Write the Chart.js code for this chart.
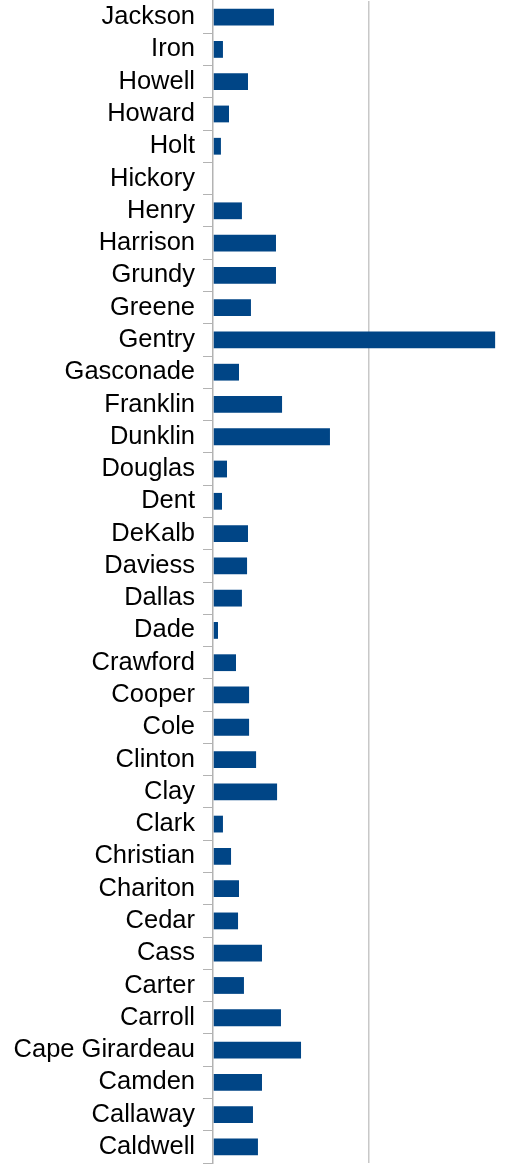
<!DOCTYPE html>
<html>
<head>
<meta charset="utf-8">
<script src="https://cdn.jsdelivr.net/npm/chart.js@4/dist/chart.umd.min.js"></script>
<style>
    html, body { margin: 0; padding: 0; background: #fff; }
    #wrap { position: relative; width: 511px; height: 1167px; }
</style>
</head>
<body>
<div id="wrap"><canvas id="chart"></canvas></div>
<script>
(function () {
    'use strict';

    /* ── Data ── */
    var counties = [
        'Jackson', 'Iron', 'Howell', 'Howard', 'Holt', 'Hickory', 'Henry',
        'Harrison', 'Grundy', 'Greene', 'Gentry', 'Gasconade', 'Franklin',
        'Dunklin', 'Douglas', 'Dent', 'DeKalb', 'Daviess', 'Dallas', 'Dade',
        'Crawford', 'Cooper', 'Cole', 'Clinton', 'Clay', 'Clark', 'Christian',
        'Chariton', 'Cedar', 'Cass', 'Carter', 'Carroll', 'Cape Girardeau',
        'Camden', 'Callaway', 'Caldwell'
    ];
    var values = [
        39.2, 6.4, 22.5, 10.3, 5.1, 0, 18.6,
        40.5, 40.5, 24.4, 181.4, 16.7, 44.4,
        75.2, 9.0, 5.8, 22.5, 21.9, 18.6, 3.2,
        14.8, 23.2, 23.2, 27.7, 41.2, 6.4, 11.6,
        16.7, 16.1, 31.5, 19.9, 43.7, 56.6,
        31.5, 25.7, 28.9
    ];
    var gridTicks = [0, 100];
    var axisMax = 191.6;

    var colours = {
        bar:  '#004586',
        axis: '#b3b3b3',
        grid: '#c8c8c8',
        text: '#000000'
    };

    new Chart(document.getElementById('chart'), {
        type: 'bar',
        data: {
            labels: counties,
            datasets: [{
                data: values,
                backgroundColor: colours.bar,
                borderWidth: 0,
                categoryPercentage: 1,
                barPercentage: 0.52
            }]
        },
        options: {
            indexAxis: 'y',
            responsive: true,
            maintainAspectRatio: false,
            animation: false,
            layout: { padding: { top: 1, bottom: 4, left: 0, right: 0 } },
            plugins: {
                legend: { display: false },
                tooltip: { enabled: false }
            },
            scales: {
                x: {
                    min: 0,
                    max: axisMax,
                    afterBuildTicks: function (scale) {
                        scale.ticks = gridTicks.map(function (v) { return { value: v }; });
                    },
                    afterFit: function (scale) {
                        scale.height = 0;
                        scale.paddingLeft = 0;
                        scale.paddingRight = 0;
                    },
                    ticks: { display: false },
                    border: { display: false },
                    grid: {
                        drawTicks: false,
                        lineWidth: 1.5,
                        color: function (ctx) {
                            return ctx.index === 1 ? colours.grid : 'rgba(0,0,0,0)';
                        }
                    }
                },
                y: {
                    afterFit: function (scale) {
                        scale.width = 213;
                        scale.paddingTop = 0;
                        scale.paddingBottom = 0;
                    },
                    border: { display: true, color: colours.axis, width: 1.5 },
                    grid: {
                        offset: true,
                        drawOnChartArea: false,
                        drawTicks: true,
                        tickLength: 10,
                        tickColor: function (ctx) {
                            return ctx.index === 0 ? 'rgba(0,0,0,0)' : colours.axis;
                        }
                    },
                    ticks: {
                        padding: 8,
                        color: colours.text,
                        autoSkip: false,
                        font: { family: '"Liberation Sans", Arial, sans-serif', size: 25.5 }
                    }
                }
            }
        }
    });
})();
</script>
</body>
</html>
